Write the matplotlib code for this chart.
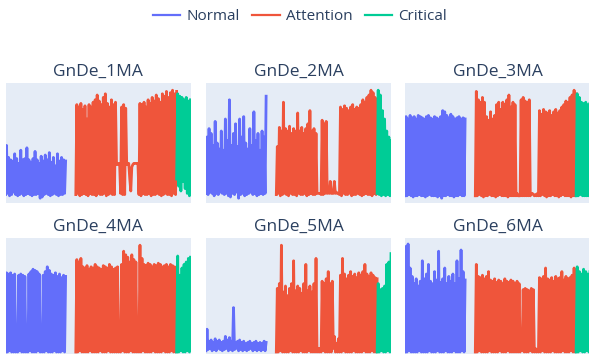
import numpy as np
import matplotlib
matplotlib.use("Agg")
import matplotlib.pyplot as plt
from matplotlib.lines import Line2D

# ---------------- data ----------------
titles = ["GnDe_1MA", "GnDe_2MA", "GnDe_3MA", "GnDe_4MA", "GnDe_5MA", "GnDe_6MA"]
states = ["Normal", "Attention", "Critical"]
colors = ["#636EFA", "#EF553B", "#00CC96"]

# time spans of each state
t_normal = (0.0, 32.5)
t_attention = (38.0, 92.5)
t_critical = (92.5, 100.0)

# ---- GnDe_1MA ----
n1_hi = [48,38,36,35,41,37,33,44,36,37,46,36,34,37,43,36,33,39,35,40,36,42,34,38,31,41,35,38,36,35]
n1_lo = [7,8,6,7,9,7,6,7,8,6,7,8,7,6,7,7,8,4,5,7,8,7,6,7,8,7,6,7,7,8]
a1_hi = [82,80,83,78,81,70,82,80,84,86,90,85,82,88,91,83,80,86,82,84,
         33,33,80,82,79,33,20,30,33,33,33,
         83,82,84,80,86,83,88,85,90,87,84,91,89,93,88,92,94,91,93]
a1_lo = [7,8,6,7,8,7,6,8,7,7,6,8,7,7,8,6,7,8,7,7,
         32,32,8,7,7,32,33,10,32,33,33,
         7,6,8,7,7,8,6,7,7,8,7,6,7,8,7,7,6,8,7]
c1_hi = [91,89,88,86,88,85,86]
c1_lo = [20,14,10,18,12,8,6]

# ---- GnDe_2MA ----
n2_hi = [55,62,58,48,68,50,45,60,44,70,52,86,48,58,66,47,70,55,72,50,45,62,48,76,52,58,44,60,55,89]
n2_lo = [8,7,9,8,6,8,7,9,8,7,8,6,5,8,7,9,4,7,8,6,7,8,9,7,8,6,7,8,7,8]
a2_hi = [47,63,60,84,62,60,64,58,62,60,75,60,63,58,62,66,77,60,62,58,
         8,8,69,66,68,10,18,8,18,9,8,
         80,78,81,79,77,80,82,78,80,79,82,86,84,88,90,94,92,88,86]
a2_lo = [7,8,6,7,8,7,6,8,7,7,6,8,7,7,8,6,7,8,7,7,
         8,8,7,7,8,8,8,8,8,8,8,
         7,6,8,7,7,8,6,7,7,8,7,6,7,8,7,7,6,8,7]
c2_hi = [94,90,77,70,60,55,52]
c2_lo = [8,7,6,7,6,7,6]

# ---- GnDe_3MA ----
n3_hi = [72,70,73,71,72,70,73,72,71,70,72,73,71,70,72,71,70,72,77,76,73,71,74,72,70,71,72,70,71,70]
n3_lo = [6,6,7,6,5,6,6,7,6,6,5,6,7,6,6,6,5,6,4,6,6,7,6,6,5,6,6,7,6,6]
a3_hi = [93,86,84,88,84,72,69,76,70,73,82,84,78,84,82,86,90,80,84,82,
         8,6,86,88,85,84,86,8,7,7,8,
         77,74,78,76,75,77,73,76,78,75,77,80,82,85,84,88,90,94,91]
a3_lo = [6,6,7,6,5,6,6,7,6,6,5,6,7,6,6,6,5,6,6,6,
         6,6,6,6,6,6,6,6,8,6,6,
         6,6,7,6,5,6,6,7,6,6,5,6,7,6,6,6,5,6,6]
c3_hi = [91,88,84,83,84,82,83]
c3_lo = [6,6,7,6,6,6,6]

# ---- GnDe_4MA ----
n4_hi = [71,70,71,69,70,12,69,70,69,68,15,70,72,74,73,72,70,10,69,72,76,73,70,69,71,68,70,67,69,68]
n4_lo = [5,5,6,5,5,5,5,6,5,5,5,5,6,5,5,5,6,5,5,5,6,5,5,5,6,5,5,5,6,5]
a4_hi = [82,80,83,76,75,77,74,76,75,78,76,75,74,77,76,75,78,76,74,75,
         76,10,78,89,86,84,80,86,82,80,10,
         94,83,78,77,79,78,76,78,77,79,78,76,77,78,76,78,77,76,75]
a4_lo = [5,5,6,5,5,5,5,6,5,5,5,5,6,5,5,5,6,5,5,5,
         5,5,5,6,5,5,5,6,5,5,5,
         5,5,6,5,5,5,5,6,5,5,5,5,6,5,5,5,6,5,5]
c4_hi = [85,69,75,78,80,83,84]
c4_lo = [5,5,6,5,5,6,5]

# ---- GnDe_5MA ----
n5_hi = [24,14,15,13,16,14,15,13,14,18,15,17,14,42,13,14,15,13,14,12,13,14,12,13,14,12,13,12,14,13]
n5_lo = [6,7,8,6,7,6,8,7,6,7,8,6,7,6,7,8,6,7,6,7,6,7,8,6,7,6,7,6,7,6]
a5_hi = [58,62,94,55,60,52,58,62,81,56,60,58,54,62,78,56,60,55,62,83,
         8,8,64,62,66,72,62,64,18,12,16,
         69,83,70,66,69,72,68,70,67,71,69,72,78,70,68,71,69,67,66]
a5_lo = [5,5,6,5,5,5,5,6,5,5,5,5,6,5,5,5,6,5,5,5,
         5,5,5,6,5,5,5,5,8,5,5,
         5,5,6,5,5,5,5,6,5,5,5,5,6,5,5,5,6,5,5]
c5_hi = [62,57,58,60,78,80,87]
c5_lo = [5,5,6,5,5,6,5]

# ---- GnDe_6MA ----
n6_hi = [93,95,75,68,62,66,60,64,81,66,70,78,64,62,72,65,89,63,66,75,62,68,64,70,62,81,66,90,72,65]
n6_lo = [5,5,6,5,5,5,5,6,5,5,5,5,6,5,5,5,6,5,5,5,6,5,5,5,6,5,5,5,6,5]
a6_hi = [78,68,67,69,66,68,72,65,64,66,63,65,64,62,66,64,63,65,64,62,
         64,62,10,57,58,57,56,58,57,8,7,
         67,66,68,75,66,65,67,64,68,66,67,72,65,68,66,67,69,75,73]
a6_lo = [5,5,6,5,5,5,5,6,5,5,5,5,6,5,5,5,6,5,5,5,
         5,5,5,6,5,5,5,6,5,5,5,
         5,5,6,5,5,5,5,6,5,5,5,5,6,5,5,5,6,5,5]
c6_hi = [76,72,70,74,72,70,72]
c6_lo = [5,5,6,5,5,6,5]

panels = [
    ((n1_lo, n1_hi), (a1_lo, a1_hi), (c1_lo, c1_hi)),
    ((n2_lo, n2_hi), (a2_lo, a2_hi), (c2_lo, c2_hi)),
    ((n3_lo, n3_hi), (a3_lo, a3_hi), (c3_lo, c3_hi)),
    ((n4_lo, n4_hi), (a4_lo, a4_hi), (c4_lo, c4_hi)),
    ((n5_lo, n5_hi), (a5_lo, a5_hi), (c5_lo, c5_hi)),
    ((n6_lo, n6_hi), (a6_lo, a6_hi), (c6_lo, c6_hi)),
]
spans = [t_normal, t_attention, t_critical]

# ---------------- figure ----------------
W, H = 589, 354
fig = plt.figure(figsize=(W / 100, H / 100), dpi=100)
fig.patch.set_facecolor("white")
FONT = ["Open Sans", "DejaVu Sans"]
TXT = "#2a3f5f"

cols_px = [(5.5, 190.5), (206, 391), (405, 590)]
rows_px = [(83, 203), (238, 358)]

for i, (title, segs) in enumerate(zip(titles, panels)):
    r, c = divmod(i, 3)
    x0, x1 = cols_px[c]
    y0, y1 = rows_px[r]
    ax = fig.add_axes([x0 / W, 1 - y1 / H, (x1 - x0) / W, (y1 - y0) / H])
    ax.set_facecolor("#E5ECF6")
    for (lo, hi), (t0, t1), col in zip(segs, spans, colors):
        v = np.column_stack([lo, hi]).ravel()
        t = np.linspace(t0, t1, len(v))
        ax.plot(t, v, color=col, lw=2.0, solid_joinstyle="round")
    ax.set_xlim(0, 100)
    ax.set_ylim(0, 100)
    ax.set_xticks([])
    ax.set_yticks([])
    for s in ax.spines.values():
        s.set_visible(False)
    fig.text((x0 + x1) / 2 / W, 1 - (y0 - 11) / H, title, ha="center", va="center",
             fontsize=12.5, color=TXT, family=FONT)

handles = [Line2D([0], [0], color=c, lw=1.6) for c in colors]
fig.legend(handles, states, loc="center", bbox_to_anchor=(300 / W, 1 - 17 / H), ncol=3,
           frameon=False, prop={"family": FONT, "size": 11}, labelcolor=TXT,
           handlelength=1.8, handletextpad=0.4, columnspacing=0.8)

fig.savefig("out.png", dpi=100)
